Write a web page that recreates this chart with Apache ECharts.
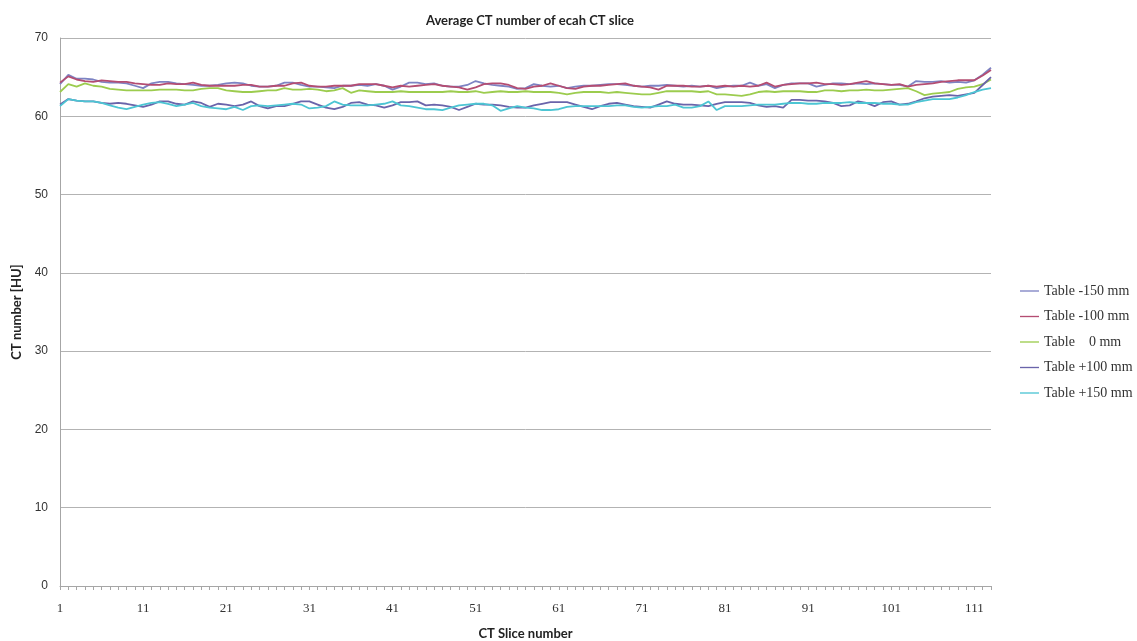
<!DOCTYPE html>
<html>
<head>
<meta charset="utf-8">
<script src="https://cdn.jsdelivr.net/npm/echarts@6/dist/echarts.min.js"></script>
<style>html,body{margin:0;padding:0;background:#fff;}#c{width:1137px;height:641px;}</style>
</head>
<body>
<div id="c"></div>
<script>
// Categories: CT slice numbers 1..113
const slices = [];
for (let i = 1; i <= 113; i++) slices.push(String(i));

const seriesNames = ['Table -150 mm', 'Table -100 mm', 'Table    0 mm', 'Table +100 mm', 'Table +150 mm'];

const tableMinus150 = [64.1,65.3,64.8,64.8,64.7,64.4,64.3,64.3,64.2,63.9,63.6,64.2,64.4,64.4,64.2,64.1,64.0,63.9,63.9,64.0,
64.2,64.3,64.2,63.9,63.8,63.8,63.9,64.3,64.3,64.0,63.8,63.8,63.7,63.6,63.9,63.9,64.0,63.9,64.1,63.9,
63.4,63.8,64.3,64.3,64.1,64.2,63.9,63.8,63.8,64.0,64.5,64.2,64.0,63.9,63.8,63.5,63.6,64.1,63.9,63.8,
63.9,63.6,63.8,63.9,63.9,64.0,64.1,64.1,64.0,63.9,63.8,63.9,63.9,64.0,63.9,63.8,63.9,63.8,63.9,63.6,
63.8,63.9,63.9,64.3,63.9,64.1,63.6,64.0,64.2,64.2,64.2,63.8,64.0,64.2,64.2,64.1,64.2,64.1,64.2,64.1,
64.0,64.0,63.8,64.5,64.4,64.4,64.5,64.3,64.4,64.3,64.6,65.3,66.2];

const tableMinus100 = [64.3,65.1,64.7,64.5,64.4,64.6,64.5,64.4,64.4,64.2,64.1,64.0,64.0,64.2,64.1,64.1,64.3,64.0,63.9,63.9,
63.9,63.9,64.0,64.0,63.8,63.8,63.9,63.9,64.2,64.3,63.9,63.8,63.8,63.9,63.9,63.9,64.1,64.1,64.1,63.9,
63.7,63.9,63.8,63.9,64.0,64.1,63.9,63.8,63.7,63.4,63.7,64.1,64.2,64.2,64.0,63.6,63.5,63.8,63.9,64.2,
63.9,63.6,63.5,63.8,63.9,63.9,64.0,64.1,64.2,63.9,63.8,63.7,63.4,63.9,63.9,63.9,63.8,63.8,63.9,63.8,
63.9,63.8,63.9,63.8,63.9,64.3,63.8,64.0,64.1,64.2,64.2,64.3,64.1,64.1,64.0,64.1,64.3,64.5,64.2,64.1,
64.0,64.1,63.8,64.0,64.1,64.2,64.4,64.5,64.6,64.6,64.6,65.2,65.9];

const table0 = [63.1,64.1,63.8,64.2,63.9,63.8,63.5,63.4,63.3,63.3,63.3,63.3,63.4,63.4,63.4,63.3,63.3,63.5,63.6,63.6,
63.3,63.2,63.1,63.1,63.2,63.3,63.3,63.6,63.4,63.4,63.5,63.4,63.2,63.3,63.6,63.0,63.3,63.2,63.1,63.1,
63.1,63.2,63.1,63.1,63.1,63.1,63.1,63.2,63.1,63.1,63.2,63.0,63.1,63.2,63.1,63.1,63.2,63.1,63.1,63.1,
63.0,62.8,63.0,63.1,63.1,63.1,63.0,63.1,63.0,62.9,62.8,62.8,63.0,63.2,63.2,63.2,63.2,63.1,63.2,62.8,
62.8,62.7,62.6,62.8,63.1,63.2,63.1,63.2,63.2,63.2,63.1,63.1,63.3,63.3,63.2,63.3,63.3,63.4,63.3,63.3,
63.4,63.5,63.6,63.2,62.7,62.9,63.0,63.1,63.5,63.7,63.8,64.1,64.7];

const tablePlus100 = [61.5,62.2,62.0,61.9,61.9,61.7,61.6,61.7,61.6,61.4,61.2,61.5,61.9,61.9,61.6,61.5,61.9,61.7,61.2,61.6,
61.5,61.3,61.5,61.9,61.3,61.0,61.3,61.3,61.6,61.9,61.9,61.5,61.1,60.9,61.2,61.7,61.8,61.5,61.4,61.1,
61.4,61.8,61.8,61.9,61.4,61.5,61.4,61.2,60.8,61.2,61.6,61.5,61.5,61.4,61.2,61.1,61.1,61.4,61.6,61.8,
61.8,61.8,61.5,61.2,60.9,61.3,61.6,61.7,61.5,61.3,61.2,61.1,61.5,61.9,61.6,61.5,61.5,61.4,61.3,61.6,
61.8,61.8,61.8,61.7,61.4,61.2,61.3,61.1,62.1,62.1,62.0,62.0,61.9,61.7,61.3,61.4,61.9,61.7,61.3,61.8,
61.9,61.5,61.6,61.9,62.3,62.5,62.6,62.7,62.6,62.8,63.0,64.0,65.0];

const tablePlus150 = [61.3,62.2,62.0,61.9,61.9,61.7,61.4,61.1,60.9,61.2,61.5,61.7,61.8,61.6,61.3,61.5,61.7,61.3,61.1,61.0,
60.9,61.2,60.8,61.3,61.4,61.3,61.4,61.5,61.6,61.5,61.0,61.1,61.3,61.9,61.5,61.4,61.4,61.4,61.5,61.6,
61.9,61.4,61.3,61.1,60.9,60.9,60.8,61.1,61.4,61.5,61.6,61.6,61.4,60.7,61.0,61.3,61.1,61.0,60.8,60.8,
60.9,61.2,61.3,61.3,61.3,61.3,61.3,61.4,61.4,61.2,61.1,61.2,61.3,61.3,61.5,61.1,61.1,61.3,61.9,60.8,
61.3,61.3,61.3,61.4,61.5,61.5,61.5,61.6,61.7,61.7,61.6,61.6,61.7,61.7,61.7,61.8,61.7,61.7,61.7,61.6,
61.6,61.5,61.5,61.8,62.0,62.2,62.2,62.2,62.4,62.7,63.1,63.4,63.6];

const seriesData = [tableMinus150, tableMinus100, table0, tablePlus100, tablePlus150];
const seriesColors = ['#7d83c3', '#b44d72', '#9ccc4e', '#6a64aa', '#4cc5d3'];

const chart = echarts.init(document.getElementById('c'), null, {renderer: 'canvas'});
chart.setOption({
  animation: false,
  backgroundColor: '#ffffff',
  title: {
    text: 'Average CT number of ecah CT slice',
    left: 525, top: 9, textAlign: 'center',
    textStyle: {fontFamily: 'Lato, "Liberation Sans", sans-serif', fontSize: 13, fontWeight: 'bold', color: '#222'}
  },
  legend: {
    orient: 'vertical',
    left: 1015, top: 279,
    itemWidth: 19, itemHeight: 10, itemGap: 11.5,
    icon: 'path://M0,5 L20,5 L20,6.4 L0,6.4 Z',
    textStyle: {fontFamily: '"Liberation Serif", serif', fontSize: 14, color: '#333'},
    data: seriesNames
  },
  grid: {left: 60, right: 146, top: 38, bottom: 55, containLabel: false, outerBoundsMode: 'none'},
  xAxis: {
    type: 'category',
    data: slices,
    boundaryGap: false,
    name: 'CT Slice number',
    nameLocation: 'middle',
    nameGap: 41,
    nameTextStyle: {fontFamily: 'Lato, "Liberation Sans", sans-serif', fontSize: 13, fontWeight: 'bold', color: '#222'},
    axisLine: {lineStyle: {color: '#a6a6a6', width: 1}},
    axisTick: {show: true, interval: 0, length: 4, lineStyle: {color: '#a6a6a6'}},
    axisLabel: {interval: 9, margin: 16, fontFamily: '"Liberation Serif", serif', fontSize: 13, color: '#333'},
    splitLine: {show: false}
  },
  yAxis: {
    type: 'value',
    min: 0, max: 70, interval: 10,
    name: 'CT number [HU]',
    nameLocation: 'middle',
    nameGap: 37,
    nameRotate: 90,
    nameTextStyle: {fontFamily: 'Lato, "Liberation Sans", sans-serif', fontSize: 13, fontWeight: 'bold', color: '#222'},
    axisLine: {show: true, lineStyle: {color: '#a6a6a6'}},
    axisTick: {show: false},
    axisLabel: {margin: 12, fontFamily: '"Liberation Sans", sans-serif', fontSize: 12, color: '#333'},
    splitLine: {show: true, lineStyle: {color: '#b3b3b3', width: 1}}
  },
  series: seriesNames.map((n, k) => ({
    name: n,
    type: 'line',
    data: seriesData[k],
    symbol: 'none',
    smooth: false,
    lineStyle: {width: 1.8, color: seriesColors[k]},
    itemStyle: {color: seriesColors[k]}
  }))
});
</script>
</body>
</html>
